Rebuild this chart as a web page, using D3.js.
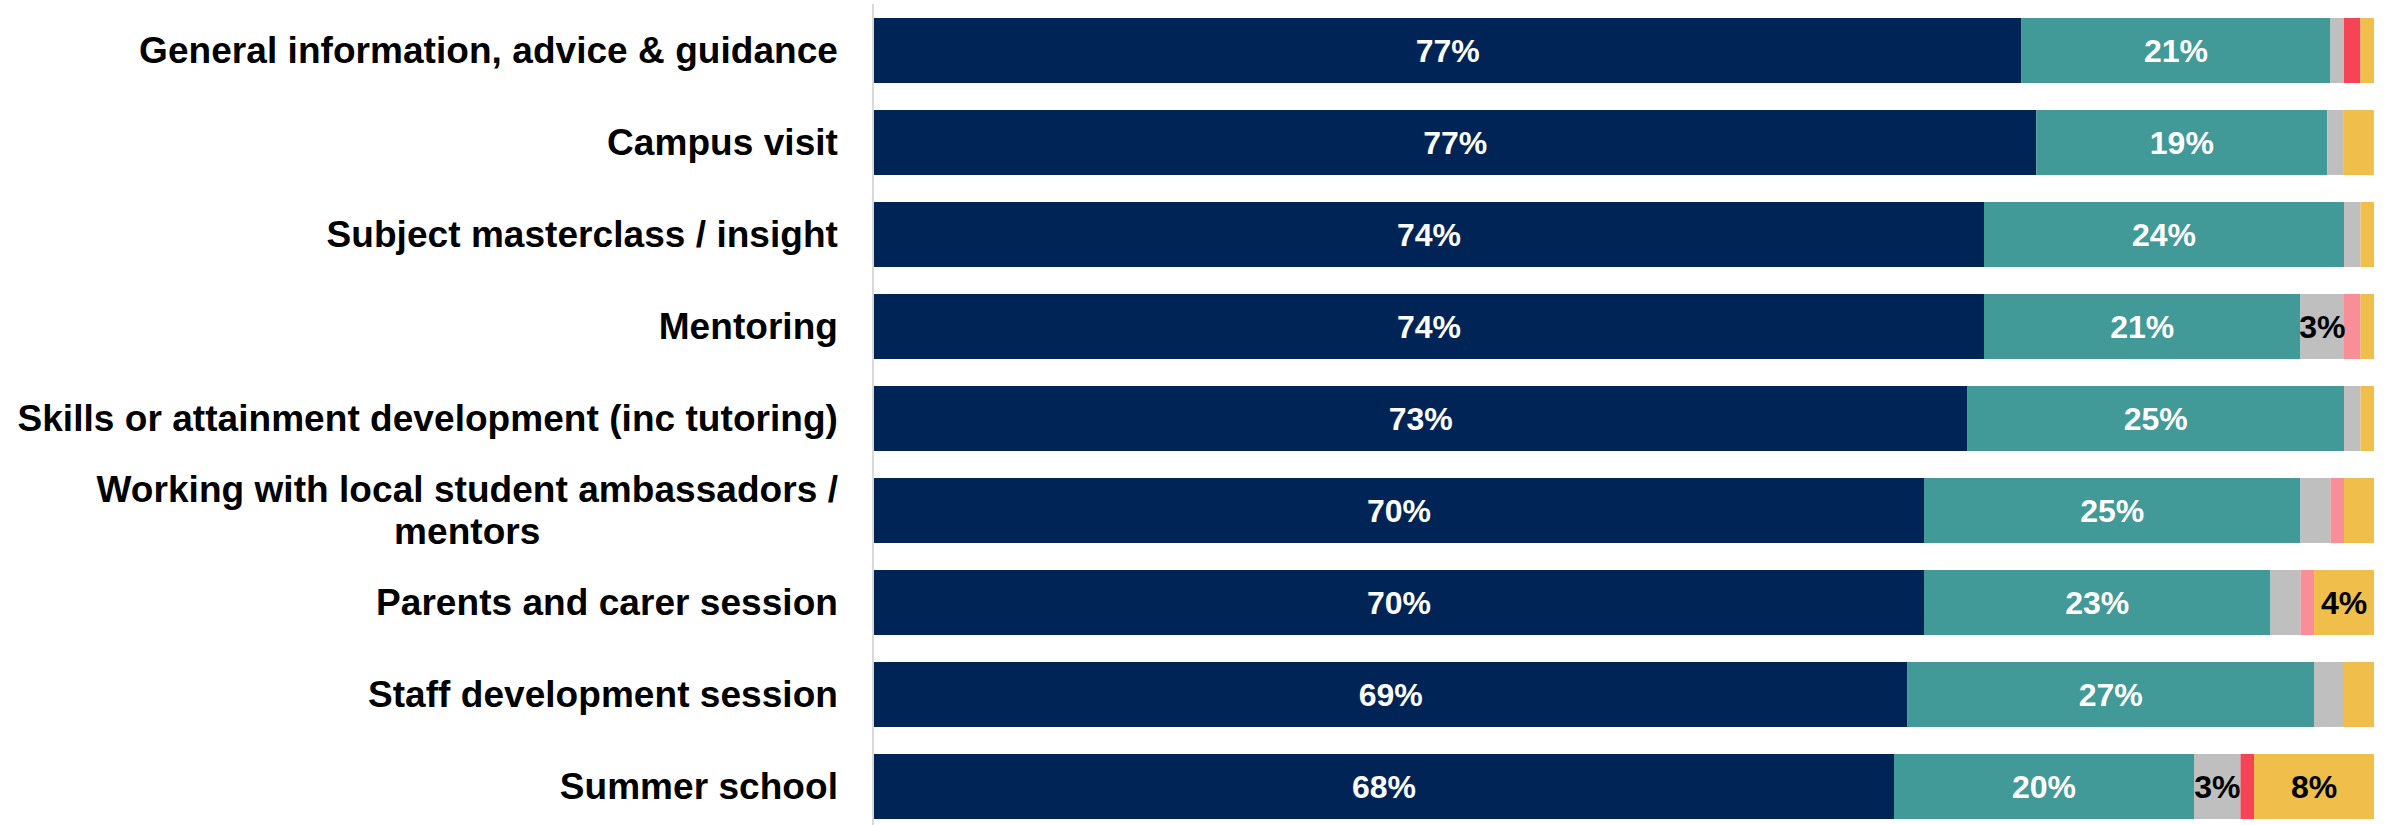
<!DOCTYPE html>
<html>
<head>
<meta charset="utf-8">
<script src="https://cdn.jsdelivr.net/npm/d3@7"></script>
<style>
  html, body { margin: 0; padding: 0; background: #ffffff; }
  svg { display: block; }
  text { font-family: "Liberation Sans", Arial, Helvetica, sans-serif; font-weight: bold; }
</style>
</head>
<body>
<svg id="chart" width="2392" height="825"></svg>
<script>
// Activity types, top to bottom
const categories = [
  "General information, advice & guidance",
  "Campus visit",
  "Subject masterclass / insight",
  "Mentoring",
  "Skills or attainment development (inc tutoring)",
  "Working with local student ambassadors / mentors",
  "Parents and carer session",
  "Staff development session",
  "Summer school"
];

// Response shares (%) per activity, one array per response option
const veryPositive = [76.5, 77.49, 74.0, 74.0, 72.9, 70.0, 70.0, 68.9, 68.0];
const positive     = [20.6, 19.4, 24.0, 21.1, 25.1, 25.1, 23.1, 27.1, 20.0];
const neutral      = [0.9, 1.1, 1.1, 2.9, 1.1, 2.0, 2.0, 2.0, 3.1];
const negative     = [0, 0, 0, 1.1, 0, 0.9, 0.9, 0, 0];
const veryNegative = [1.1, 0, 0, 0, 0, 0, 0, 0, 0.9];
const dontKnow     = [0.9, 2.0, 0.9, 0.9, 0.9, 2.0, 4.0, 2.0, 8.0];

const seriesKeys   = ["veryPositive", "positive", "neutral", "negative", "veryNegative", "dontKnow"];
const seriesValues = [veryPositive, positive, neutral, negative, veryNegative, dontKnow];
const seriesColors = ["#002455", "#429a98", "#bfbfbf", "#f88e98", "#f44456", "#f0be4a"];
const labelColors  = ["#ffffff", "#ffffff", "#000000", "#000000", "#000000", "#000000"];

// Rows for d3.stack
const rows = categories.map((c, i) => {
  const r = { category: c };
  seriesKeys.forEach((k, j) => { r[k] = seriesValues[j][i]; });
  return r;
});

const svg = d3.select("#chart");
const plotLeft = 874, plotRight = 2374;

const x = d3.scaleLinear().domain([0, 100]).range([plotLeft, plotRight]);
const y = d3.scaleBand()
  .domain(categories)
  .range([4.5, 832.5])
  .paddingInner(0.2935)
  .paddingOuter(0.14675);

const stacked = d3.stack().keys(seriesKeys)(rows);

const layers = svg.append("g").selectAll("g")
  .data(stacked)
  .join("g")
  .attr("fill", (d, i) => seriesColors[i]);

layers.selectAll("rect")
  .data(d => d)
  .join("rect")
  .attr("x", d => x(d[0]))
  .attr("y", d => y(d.data.category))
  .attr("width", d => Math.max(0, x(d[1]) - x(d[0])))
  .attr("height", y.bandwidth());

// Value labels for segments of 3% and above
const labels = svg.append("g");
stacked.forEach((layer, i) => {
  labels.selectAll(null)
    .data(layer.filter(d => (d[1] - d[0]) >= 2.5))
    .join("text")
    .attr("x", d => (x(d[0]) + x(d[1])) / 2)
    .attr("y", d => y(d.data.category) + y.bandwidth() / 2)
    .attr("dy", "0.36em")
    .attr("text-anchor", "middle")
    .attr("font-size", 32)
    .attr("fill", labelColors[i])
    .text(d => Math.round(d[1] - d[0]) + "%");
});

// Category axis
const axisX = 873;
svg.append("line")
  .attr("x1", axisX).attr("x2", axisX)
  .attr("y1", 4).attr("y2", 825)
  .attr("stroke", "#d9d9d9")
  .attr("stroke-width", 2);

const labelRight = 838;
const maxLabelWidth = 850;
const fontSize = 37;
const letterSpacing = 0.05;
const lineHeight = 42;

const catLabels = svg.append("g");
categories.forEach(cat => {
  const cy = y(cat) + y.bandwidth() / 2;
  // word wrap to the available width
  const probe = catLabels.append("text")
    .attr("font-size", fontSize)
    .attr("letter-spacing", letterSpacing);
  const words = cat.split(" ");
  const lines = [];
  let line = [];
  words.forEach(w => {
    const test = line.concat([w]).join(" ");
    probe.text(test);
    if (probe.node().getComputedTextLength() > maxLabelWidth && line.length) {
      lines.push(line.join(" "));
      line = [w];
    } else {
      line.push(w);
    }
  });
  lines.push(line.join(" "));
  const widths = lines.map(l => { probe.text(l); return probe.node().getComputedTextLength(); });
  probe.remove();
  const blockW = d3.max(widths);
  const cx = labelRight - blockW / 2;
  const top = cy - (lines.length - 1) * lineHeight / 2;
  lines.forEach((l, k) => {
    catLabels.append("text")
      .attr("x", lines.length > 1 ? cx : labelRight)
      .attr("y", top + k * lineHeight)
      .attr("dy", "0.35em")
      .attr("text-anchor", lines.length > 1 ? "middle" : "end")
      .attr("font-size", fontSize)
      .attr("letter-spacing", letterSpacing)
      .attr("fill", "#000000")
      .text(l);
  });
});
</script>
</body>
</html>
